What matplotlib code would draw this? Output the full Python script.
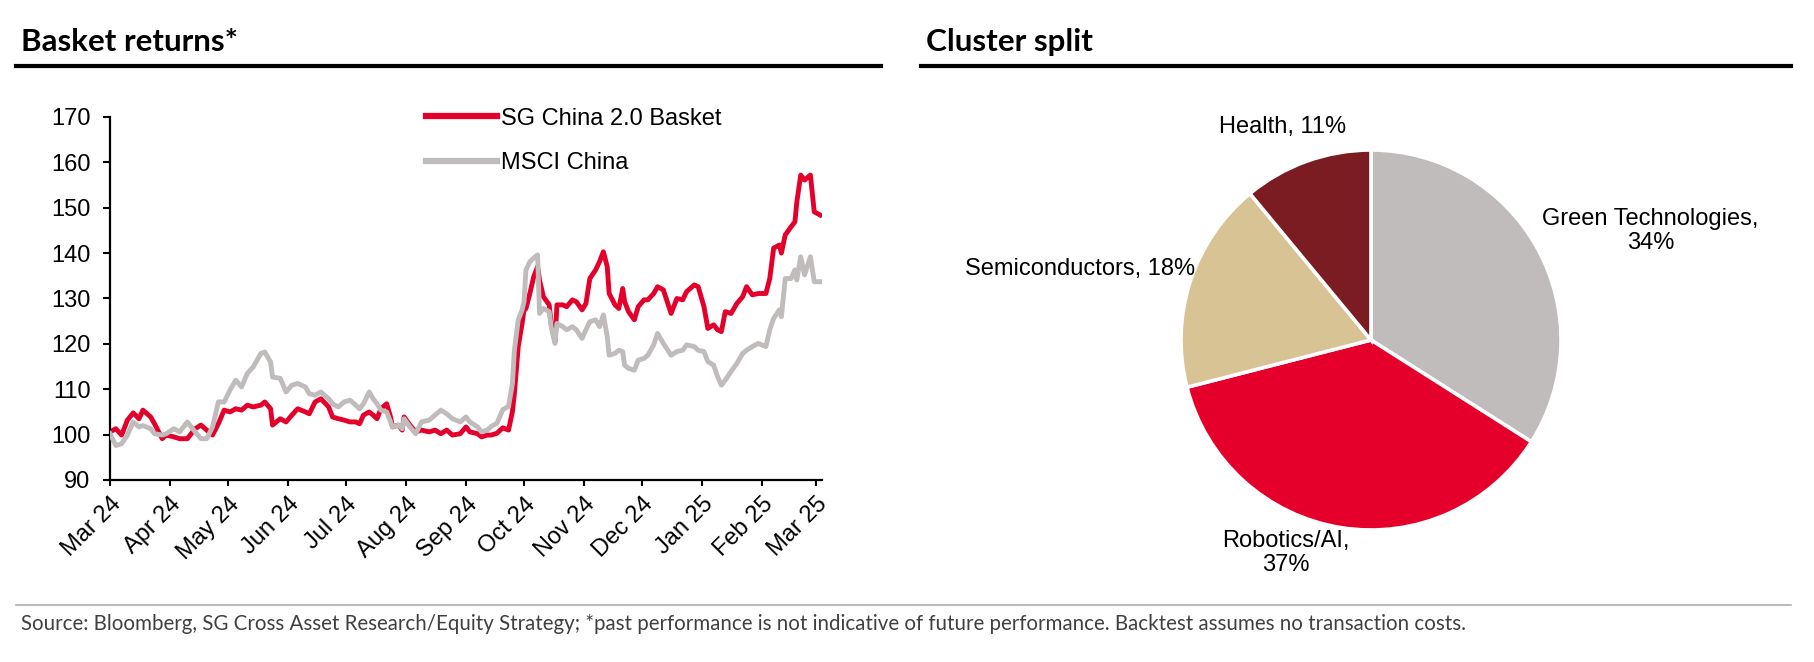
import matplotlib
matplotlib.use("Agg")
import matplotlib.pyplot as plt
import matplotlib.dates as mdates
from matplotlib import font_manager
from matplotlib.lines import Line2D
import pandas as pd

# ---------------- data ----------------
START = "2024-03-01"
day_offsets = [0, 3, 6, 9, 12, 15, 17, 21, 23, 27, 29, 33, 36, 40, 44, 47, 50, 53, 56, 59,
               62, 65, 68, 71, 74, 78, 80, 83, 84, 88, 91, 94, 97, 101, 103, 106, 109, 113, 115, 118,
               121, 124, 127, 129, 131, 134, 136, 138, 140, 143, 145, 146, 149, 151, 152, 155, 158, 161, 165, 168,
               171, 174, 177, 181, 184, 186, 190, 192, 195, 197, 200, 203, 206, 208, 209, 211, 213, 214, 215, 217,
               219, 221, 222, 224, 227, 228, 230, 231, 234, 236, 239, 241, 244, 246, 248, 251, 253, 255, 257, 258,
               261, 263, 265, 266, 268, 271, 273, 276, 278, 281, 283, 286, 290, 293, 296, 298, 302, 304, 307, 309,
               312, 314, 316, 318, 321, 324, 327, 329, 332, 335, 339, 341, 343, 346, 347, 349, 352, 354, 355, 357,
               359, 362, 364, 367]

sg_basket = [100.6, 101.3, 99.9, 103.2, 104.8, 103.5, 105.4, 103.9, 102.4, 99.1, 99.9, 99.5, 99.1, 99.1, 101.3, 102.1, 101.0, 99.9, 102.4, 105.4,
             105.0, 105.7, 105.4, 106.5, 106.1, 106.5, 107.2, 105.7, 102.1, 103.5, 102.8, 104.3, 105.7, 105.0, 104.6, 107.2, 107.9, 106.1, 103.9, 103.5,
             103.2, 102.8, 102.8, 102.4, 104.3, 105.0, 104.3, 103.5, 105.7, 106.8, 103.9, 101.7, 102.1, 101.0, 103.9, 102.1, 100.6, 101.0, 100.6, 101.0,
             100.2, 101.0, 99.9, 100.2, 101.7, 100.6, 100.2, 99.5, 99.9, 99.9, 100.3, 101.5, 101.0, 105.1, 109.0, 119.4, 124.5, 127.5, 127.8, 131.1,
             134.8, 137.0, 134.1, 130.4, 128.6, 124.5, 120.5, 128.6, 128.6, 128.2, 129.7, 129.3, 127.5, 128.9, 134.4, 136.3, 138.1, 140.3, 137.0, 131.1,
             128.6, 127.8, 132.2, 129.3, 127.1, 125.3, 128.2, 129.7, 129.7, 131.1, 132.6, 131.9, 126.7, 130.0, 129.7, 131.5, 133.0, 132.6, 128.2, 123.4,
             124.2, 123.1, 122.7, 127.1, 126.7, 128.9, 130.4, 132.6, 130.8, 131.1, 131.1, 134.4, 141.1, 141.8, 140.0, 144.0, 145.8, 146.9, 151.3, 157.2,
             156.1, 157.2, 149.1, 148.4]

msci_china = [100.2, 97.6, 98.0, 99.9, 102.8, 101.7, 102.0, 101.3, 100.2, 99.9, 100.2, 101.3, 100.6, 102.8, 100.6, 99.1, 99.1, 101.7, 107.2, 107.2,
              109.8, 112.0, 110.5, 113.5, 114.9, 117.9, 118.2, 116.0, 112.7, 112.4, 109.4, 110.9, 111.3, 110.5, 109.0, 108.7, 109.4, 107.9, 106.8, 106.1,
              107.2, 107.6, 106.5, 105.7, 106.8, 109.4, 107.9, 106.8, 105.4, 105.0, 102.8, 101.7, 102.1, 101.3, 103.5, 101.7, 100.2, 102.8, 103.2, 104.3,
              105.4, 104.6, 103.5, 102.8, 103.9, 102.8, 101.7, 100.6, 101.0, 101.8, 102.5, 105.5, 106.2, 111.3, 118.5, 125.3, 127.5, 129.3, 136.3, 138.1,
              138.9, 139.6, 126.7, 127.8, 127.1, 123.8, 120.1, 124.5, 123.8, 123.1, 123.8, 123.1, 121.2, 123.1, 124.9, 125.3, 123.8, 126.4, 121.6, 117.5,
              117.9, 118.6, 118.3, 115.3, 114.6, 114.2, 116.4, 116.8, 117.5, 119.8, 122.3, 120.1, 117.5, 118.3, 118.6, 119.8, 119.4, 118.6, 118.3, 116.1,
              115.3, 112.8, 110.9, 112.0, 113.9, 115.7, 117.9, 118.6, 119.4, 120.1, 119.4, 123.1, 125.6, 127.5, 126.0, 134.4, 134.4, 136.3, 134.1, 139.2,
              135.2, 139.2, 133.7, 133.7]

series_names = ["SG China 2.0 Basket", "MSCI China"]
y_ticks = [90, 100, 110, 120, 130, 140, 150, 160, 170]
month_ticks = pd.date_range("2024-03-01", "2025-03-01", freq="MS")

cluster_names = ["Green Technologies", "Robotics/AI", "Semiconductors", "Health"]
cluster_share = [34, 37, 18, 11]
cluster_labels = ["Green Technologies,\n34%", "Robotics/AI,\n37%", "Semiconductors, 18%", "Health, 11%"]

titles = ["Basket returns*", "Cluster split"]
source_note = ("Source: Bloomberg, SG Cross Asset Research/Equity Strategy; *past performance is not "
               "indicative of future performance. Backtest assumes no transaction costs.")

# ---------------- style ----------------
RED = "#E4002B"
GREY = "#C0BCBB"
TAN = "#D8C395"
DARKRED = "#7B1C22"
pie_colors = [GREY, RED, TAN, DARKRED]

def has_font(name):
    try:
        font_manager.findfont(font_manager.FontProperties(family=name), fallback_to_default=False)
        return True
    except Exception:
        return False

BODY = "Liberation Sans" if has_font("Liberation Sans") else "DejaVu Sans"
NARROW = "Liberation Sans Narrow" if has_font("Liberation Sans Narrow") else ("Lato" if has_font("Lato") else BODY)
TITLE = "Lato" if has_font("Lato") else BODY
plt.rcParams["font.family"] = [BODY, "DejaVu Sans"]

W, H = 1814, 662
fig = plt.figure(figsize=(W / 100, H / 100), dpi=100)
fig.patch.set_facecolor("white")

# ---------------- line chart ----------------
dates = pd.Timestamp(START) + pd.to_timedelta(day_offsets, unit="D")
ax = fig.add_axes([110 / W, 1 - 480 / H, 712 / W, 363 / H])
ax.plot(dates, sg_basket, color=RED, lw=3.5, zorder=2, solid_joinstyle="round", label=series_names[0])
ax.plot(dates, msci_china, color=GREY, lw=3.5, zorder=3, solid_joinstyle="round", label=series_names[1])
ax.set_ylim(y_ticks[0], y_ticks[-1])
ax.set_yticks(y_ticks)
ax.set_xlim(pd.Timestamp(START), pd.Timestamp(START) + pd.Timedelta(days=368))
ax.set_xticks(month_ticks)
ax.xaxis.set_major_formatter(mdates.DateFormatter("%b %y"))
for s in ["top", "right"]:
    ax.spines[s].set_visible(False)
for s in ["left", "bottom"]:
    ax.spines[s].set_linewidth(1.6)
    ax.spines[s].set_color("black")
ax.tick_params(axis="y", direction="out", length=5, width=1.5, pad=9, labelsize=17, colors="black")
ax.tick_params(axis="x", direction="out", length=4.5, width=1.5, pad=5, labelsize=17, colors="black")
for lab in ax.get_xticklabels():
    lab.set_rotation(45)
    lab.set_ha("right")
    lab.set_rotation_mode("anchor")

handles = [Line2D([0], [0], color=RED, lw=4.5), Line2D([0], [0], color=GREY, lw=4.5)]
leg = ax.legend(handles, series_names, loc="upper left", bbox_to_anchor=(0.444, 1.026),
                frameon=False, fontsize=17, handlelength=3.0, handletextpad=0.15,
                labelspacing=0.97, borderaxespad=0, borderpad=0)

# ---------------- pie chart ----------------
R = 190
L = 1.8
half = R * L
cx, cy = 1371, 340
ax2 = fig.add_axes([(cx - half) / W, 1 - (cy + half) / H, 2 * half / W, 2 * half / H])
ax2.pie(cluster_share, colors=pie_colors, startangle=90, counterclock=False, radius=1,
        wedgeprops=dict(edgecolor="white", linewidth=2.6))
ax2.set_xlim(-L, L)
ax2.set_ylim(-L, L)
ax2.set_aspect("equal")
ax2.axis("off")
label_pos = [(1.47, 0.574), (-0.447, -1.121), (-1.532, 0.374), (-0.468, 1.121)]
for (lx, ly), txt in zip(label_pos, cluster_labels):
    ax2.text(lx, ly, txt, ha="center", va="center", fontsize=17, linespacing=1.1, color="black")

# ---------------- titles, rules, footer ----------------
renderer = fig.canvas.get_renderer()

def fit(t, target):
    w = t.get_window_extent(renderer).width
    t.set_fontsize(t.get_fontsize() * target / w)

t1 = fig.text(21 / W, 1 - 51 / H, titles[0], fontsize=21, fontweight="bold", family=TITLE,
              va="baseline", ha="left", color="black")
t2 = fig.text(926 / W, 1 - 51 / H, titles[1], fontsize=21, fontweight="bold", family=TITLE,
              va="baseline", ha="left", color="black")
fit(t1, 217)
fit(t2, 167)

fig.add_artist(Line2D([16 / W, 881 / W], [1 - 66 / H, 1 - 66 / H], color="black", lw=3.0,
                      transform=fig.transFigure))
fig.add_artist(Line2D([921 / W, 1791 / W], [1 - 66 / H, 1 - 66 / H], color="black", lw=3.0,
                      transform=fig.transFigure))
fig.add_artist(Line2D([16 / W, 1791 / W], [1 - 605 / H, 1 - 605 / H], color="#A6A6A6", lw=1.1,
                      transform=fig.transFigure))

t3 = fig.text(21 / W, 1 - 630 / H, source_note, fontsize=15, family=NARROW,
              va="baseline", ha="left", color="#404040")
fit(t3, 1450)

fig.savefig("out.png", dpi=100, facecolor="white")
